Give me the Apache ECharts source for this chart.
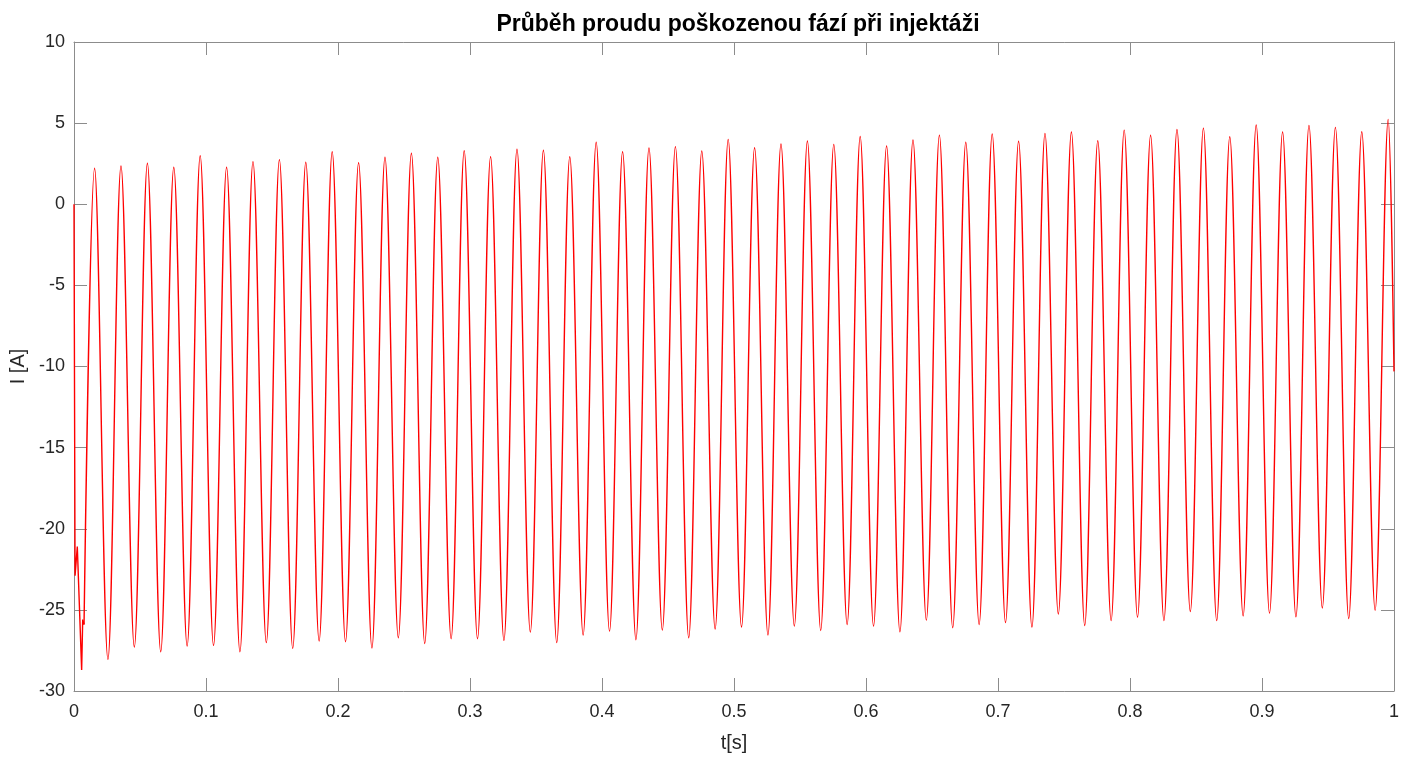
<!DOCTYPE html>
<html>
<head>
<meta charset="utf-8">
<script src="https://cdn.jsdelivr.net/npm/echarts@6/dist/echarts.min.js"></script>
<style>
  html, body { margin: 0; padding: 0; background: #ffffff; overflow: hidden; }
  #chart { width: 100vw; height: 100vh; }
</style>
</head>
<body>
<div id="chart"></div>
<script>
// Switch-on transient [t, I]
const transientT = [0, 0.0008, 0.0025, 0.0058, 0.0066, 0.0076];
const transientI = [0, -22.9, -21.1, -28.7, -25.6, -25.9];

// Positive peaks of each 50 Hz cycle
const peakT = [0.0156, 0.0356, 0.0556, 0.0756, 0.0956, 0.1156, 0.1356, 0.1556, 0.1756, 0.1956,
               0.2156, 0.2356, 0.2556, 0.2756, 0.2956, 0.3156, 0.3356, 0.3556, 0.3756, 0.3956,
               0.4156, 0.4356, 0.4556, 0.4756, 0.4956, 0.5156, 0.5356, 0.5556, 0.5756, 0.5956,
               0.6156, 0.6356, 0.6556, 0.6756, 0.6956, 0.7156, 0.7356, 0.7556, 0.7756, 0.7956,
               0.8156, 0.8356, 0.8556, 0.8756, 0.8956, 0.9156, 0.9356, 0.9556, 0.9756, 0.9956];
const peakI = [2.22, 2.36, 2.53, 2.28, 2.99, 2.28, 2.63, 2.75, 2.59, 3.24,
               2.56, 2.90, 3.14, 2.90, 3.30, 2.93, 3.39, 3.33, 2.93, 3.82,
               3.24, 3.47, 3.55, 3.28, 4.00, 3.48, 3.71, 3.90, 3.69, 4.18,
               3.59, 3.96, 4.26, 3.82, 4.33, 3.88, 4.37, 4.45, 3.91, 4.57,
               4.25, 4.61, 4.69, 4.16, 4.88, 4.45, 4.86, 4.74, 4.47, 5.23];

// Negative peaks (after the transient)
const troughT = [0.0257, 0.0457, 0.0657, 0.0857, 0.1057, 0.1257, 0.1457, 0.1657, 0.1857,
                 0.2057, 0.2257, 0.2457, 0.2657, 0.2857, 0.3057, 0.3257, 0.3457, 0.3657, 0.3857,
                 0.4057, 0.4257, 0.4457, 0.4657, 0.4857, 0.5057, 0.5257, 0.5457, 0.5657, 0.5857,
                 0.6057, 0.6257, 0.6457, 0.6657, 0.6857, 0.7057, 0.7257, 0.7457, 0.7657, 0.7857,
                 0.8057, 0.8257, 0.8457, 0.8657, 0.8857, 0.9057, 0.9257, 0.9457, 0.9657, 0.9857];
const troughI = [-28.05, -27.29, -27.58, -27.23, -27.19, -27.58, -27.02, -27.37, -26.92,
                 -26.96, -27.35, -26.72, -27.07, -26.78, -26.78, -26.88, -26.37, -27.02, -26.55,
                 -26.31, -26.84, -26.25, -26.72, -26.18, -26.06, -26.55, -26.00, -26.27, -25.90,
                 -26.00, -26.35, -25.63, -26.10, -25.90, -25.78, -26.06, -25.25, -25.96, -25.66,
                 -25.45, -25.66, -25.10, -25.66, -25.37, -25.20, -25.43, -24.88, -25.53, -25.02];

// Last sample at the end of the record
const endT = [1.0];
const endI = [-10.3];

const xTicks = ['0', '0.1', '0.2', '0.3', '0.4', '0.5', '0.6', '0.7', '0.8', '0.9', '1'];
const yTicks = ['-30', '-25', '-20', '-15', '-10', '-5', '0', '5', '10'];

const titleText = 'Průběh proudu poškozenou fází při injektáži';
const xName = 't[s]';
const yName = 'I [A]';

// Build [t, I] pairs
const transientData = transientT.map((t, i) => [t, transientI[i]]);
const waveData = [[transientT[transientT.length - 1], transientI[transientI.length - 1]]];
peakT.forEach((t, i) => waveData.push([t, peakI[i]]));
troughT.forEach((t, i) => waveData.push([t, troughI[i]]));
endT.forEach((t, i) => waveData.push([t, endI[i]]));
waveData.sort((a, b) => a[0] - b[0]);

const axisColor = '#8c8c8c';
const textColor = '#262626';
const fontFamily = '"Liberation Sans", Arial, Helvetica, sans-serif';

function baseX(extra) {
  return Object.assign({
    type: 'value', min: 0, max: 1, interval: 0.1,
    axisLine: { show: true, onZero: false, lineStyle: { color: axisColor, width: 1 } },
    axisTick: { show: true, inside: true, length: 13, lineStyle: { color: axisColor } },
    splitLine: { show: false }
  }, extra);
}
function baseY(extra) {
  return Object.assign({
    type: 'value', min: -30, max: 10, interval: 5,
    axisLine: { show: true, onZero: false, lineStyle: { color: axisColor, width: 1 } },
    axisTick: { show: true, inside: true, length: 13, lineStyle: { color: axisColor } },
    splitLine: { show: false }
  }, extra);
}

const chart = echarts.init(document.getElementById('chart'), null, { renderer: 'canvas' });
chart.setOption({
  backgroundColor: '#ffffff',
  animation: false,
  title: {
    text: titleText,
    left: 733, top: 8,
    textAlign: 'center',
    textStyle: { fontFamily, fontSize: 23, fontWeight: 'bold', color: '#000000' }
  },
  grid: { left: 74, right: 4, top: 42, bottom: 65, containLabel: false },
  xAxis: [
    baseX({
      position: 'bottom',
      name: xName, nameLocation: 'middle', nameGap: 42,
      nameTextStyle: { fontFamily, fontSize: 20, color: textColor },
      axisLabel: {
        fontFamily, fontSize: 18, color: textColor, margin: 12,
        formatter: v => xTicks[Math.round(v * 10)]
      }
    }),
    baseX({ position: 'top', axisLabel: { show: false } })
  ],
  yAxis: [
    baseY({
      position: 'left',
      name: yName, nameLocation: 'middle', nameGap: 40, nameRotate: 90,
      nameTextStyle: { fontFamily, fontSize: 20, color: textColor },
      axisLabel: {
        fontFamily, fontSize: 18, color: textColor, margin: 9,
        formatter: v => yTicks[Math.round((v + 30) / 5)]
      }
    }),
    baseY({ position: 'right', axisLabel: { show: false } })
  ],
  series: [
    {
      type: 'line', xAxisIndex: 0, yAxisIndex: 0,
      data: transientData, showSymbol: false, smooth: false,
      lineStyle: { color: '#ff0000', width: 1.4 }
    },
    {
      type: 'line', xAxisIndex: 0, yAxisIndex: 0,
      data: waveData, showSymbol: false, smooth: 0.36,
      lineStyle: { color: '#ff0000', width: 1.4 }
    }
  ]
});
</script>
</body>
</html>
